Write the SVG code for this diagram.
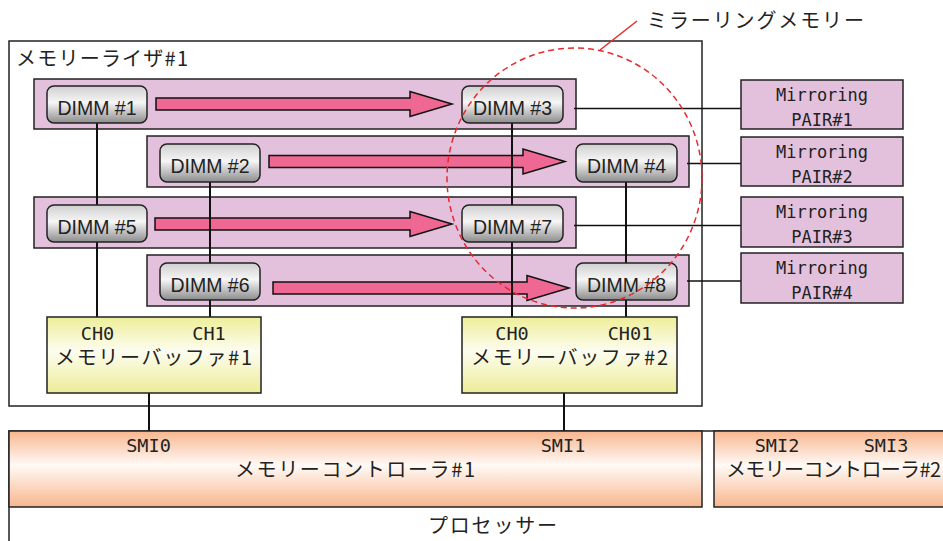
<svg xmlns="http://www.w3.org/2000/svg" width="943" height="541" viewBox="0 0 943 541">
<defs>
<linearGradient id="gDimm" x1="0" y1="0" x2="0" y2="1">
<stop offset="0" stop-color="#cfcfcf"/>
<stop offset="0.45" stop-color="#f6f6f6"/>
<stop offset="1" stop-color="#8c8c8c"/>
</linearGradient>
<linearGradient id="gBuf" x1="0" y1="0" x2="0" y2="1">
<stop offset="0" stop-color="#eeee9a"/>
<stop offset="0.45" stop-color="#fdfdf0"/>
<stop offset="1" stop-color="#ecec98"/>
</linearGradient>
<linearGradient id="gCtl" x1="0" y1="0" x2="0" y2="1">
<stop offset="0" stop-color="#f8b68e"/>
<stop offset="0.45" stop-color="#fffaf6"/>
<stop offset="1" stop-color="#f8b68e"/>
</linearGradient>
<style>
.row{fill:#e3c1dc;stroke:#222;stroke-width:1.5}
.dimm{fill:url(#gDimm);stroke:#222;stroke-width:1.5}
.buf{fill:url(#gBuf);stroke:#222;stroke-width:1.5}
.ctl{fill:url(#gCtl);stroke:#222;stroke-width:1.5}
.pair{fill:#e3c1dc;stroke:#222;stroke-width:1.5}
.frame{fill:none;stroke:#222;stroke-width:1.5}
.ln{stroke:#111;stroke-width:2;fill:none}
.thin{stroke:#111;stroke-width:1.5;fill:none}
.arrow{fill:#ef6893;stroke:#111;stroke-width:1.5}
.dt{font-family:"Liberation Sans",Arial,sans-serif;font-size:19.5px;fill:#222;text-anchor:middle}
.mono{font-family:"DejaVu Sans Mono","Liberation Mono",monospace;font-size:18.5px;fill:#222;text-anchor:middle}
.pm{font-family:"DejaVu Sans Mono","Liberation Mono",monospace;font-size:17px;fill:#222;text-anchor:middle}
.jp{font-family:"Noto Sans CJK JP",sans-serif;font-size:20px;fill:#222}
</style>
</defs>
<rect width="943" height="541" fill="#fff"/>

<g id="processor">
<rect class="frame" x="9" y="431" width="1000" height="200" fill="#fff"/>
<text class="jp" x="428" y="533" textLength="129" lengthAdjust="spacing">プロセッサー</text>
</g>

<g id="riser">
<rect class="frame" x="9" y="41" width="693" height="365"/>
<text class="jp" x="16" y="66" textLength="172" lengthAdjust="spacing">メモリーライザ#1</text>
</g>

<g id="rows">
<rect class="row" x="34" y="79" width="542" height="50"/>
<rect class="row" x="147" y="136" width="542" height="51"/>
<rect class="row" x="34" y="197" width="542" height="51"/>
<rect class="row" x="147" y="255" width="542" height="51"/>
</g>

<g id="connectors">
<path class="arrow" d="M156,98 H410 V91.5 L452,104 L410,116.5 V110 H156 Z"/>
<path class="arrow" d="M269,155.5 H523 V149 L565,161.5 L523,174 V167.5 H269 Z"/>
<path class="arrow" d="M155,218 H410 V211.5 L452,224 L410,236.5 V230 H155 Z"/>
<path class="arrow" d="M273,282 H527 V275.5 L569,288 L527,300.5 V294 H273 Z"/>
<line class="ln" x1="97" y1="123" x2="97" y2="317"/>
<line class="ln" x1="210" y1="181" x2="210" y2="317"/>
<line class="ln" x1="512" y1="123" x2="512" y2="317"/>
<line class="ln" x1="626" y1="181" x2="626" y2="317"/>
<line class="ln" x1="149" y1="393" x2="149" y2="431"/>
<line class="ln" x1="564" y1="393" x2="564" y2="431"/>
<line class="thin" x1="574" y1="108.5" x2="741" y2="108.5"/>
<line class="thin" x1="687" y1="163.5" x2="741" y2="163.5"/>
<line class="thin" x1="574" y1="225.5" x2="741" y2="225.5"/>
<line class="thin" x1="687" y1="281" x2="741" y2="281"/>
</g>

<g id="dimm1"><rect class="dimm" x="47" y="86" width="100" height="37" rx="7"/><text class="dt" x="97" y="115">DIMM #1</text></g>
<g id="dimm3"><rect class="dimm" x="462" y="86" width="101" height="37" rx="7"/><text class="dt" x="512.5" y="115">DIMM #3</text></g>
<g id="dimm2"><rect class="dimm" x="160" y="144" width="100" height="38" rx="7"/><text class="dt" x="210" y="173">DIMM #2</text></g>
<g id="dimm4"><rect class="dimm" x="576" y="144" width="101" height="38" rx="7"/><text class="dt" x="626.5" y="173">DIMM #4</text></g>
<g id="dimm5"><rect class="dimm" x="47" y="205" width="100" height="37" rx="7"/><text class="dt" x="97" y="234">DIMM #5</text></g>
<g id="dimm7"><rect class="dimm" x="462" y="205" width="101" height="37" rx="7"/><text class="dt" x="512.5" y="234">DIMM #7</text></g>
<g id="dimm6"><rect class="dimm" x="160" y="263" width="100" height="37" rx="7"/><text class="dt" x="210" y="292">DIMM #6</text></g>
<g id="dimm8"><rect class="dimm" x="576" y="263" width="101" height="37" rx="7"/><text class="dt" x="626.5" y="292">DIMM #8</text></g>

<g id="pair1"><rect class="pair" x="741" y="80" width="162" height="49"/><text class="pm" x="822" y="101">Mirroring</text><text class="pm" x="822" y="125.5">PAIR#1</text></g>
<g id="pair2"><rect class="pair" x="741" y="137" width="162" height="49"/><text class="pm" x="822" y="158">Mirroring</text><text class="pm" x="822" y="182.5">PAIR#2</text></g>
<g id="pair3"><rect class="pair" x="741" y="197" width="162" height="50"/><text class="pm" x="822" y="218">Mirroring</text><text class="pm" x="822" y="242.5">PAIR#3</text></g>
<g id="pair4"><rect class="pair" x="741" y="253" width="162" height="50"/><text class="pm" x="822" y="274">Mirroring</text><text class="pm" x="822" y="298.5">PAIR#4</text></g>

<g id="buffer1">
<rect class="buf" x="47" y="317" width="214" height="76"/>
<text class="mono" x="97.5" y="340">CH0</text>
<text class="mono" x="209" y="340">CH1</text>
<text class="jp" x="55" y="365" textLength="197" lengthAdjust="spacing">メモリーバッファ#1</text>
</g>
<g id="buffer2">
<rect class="buf" x="462" y="317" width="215" height="76"/>
<text class="mono" x="512" y="340">CH0</text>
<text class="mono" x="630" y="340">CH01</text>
<text class="jp" x="471" y="365" textLength="197" lengthAdjust="spacing">メモリーバッファ#2</text>
</g>

<g id="controller1">
<rect class="ctl" x="9" y="431" width="693" height="76"/>
<text class="mono" x="148.5" y="452">SMI0</text>
<text class="mono" x="563" y="452">SMI1</text>
<text class="jp" x="235" y="477" textLength="240" lengthAdjust="spacing">メモリーコントローラ#1</text>
</g>
<g id="controller2">
<rect class="ctl" x="714" y="431" width="260" height="76"/>
<text class="mono" x="777" y="452">SMI2</text>
<text class="mono" x="886" y="452">SMI3</text>
<text class="jp" x="726" y="477" textLength="215" lengthAdjust="spacing">メモリーコントローラ#2</text>
</g>

<g id="mirroring">
<ellipse cx="574.5" cy="178" rx="127.5" ry="130" fill="none" stroke="#e8282c" stroke-width="1.5" stroke-dasharray="6,4"/>
<line x1="600" y1="50" x2="637" y2="21" stroke="#e8282c" stroke-width="1.5"/>
<text class="jp" x="647" y="28" textLength="217" lengthAdjust="spacing">ミラーリングメモリー</text>
</g>
</svg>
